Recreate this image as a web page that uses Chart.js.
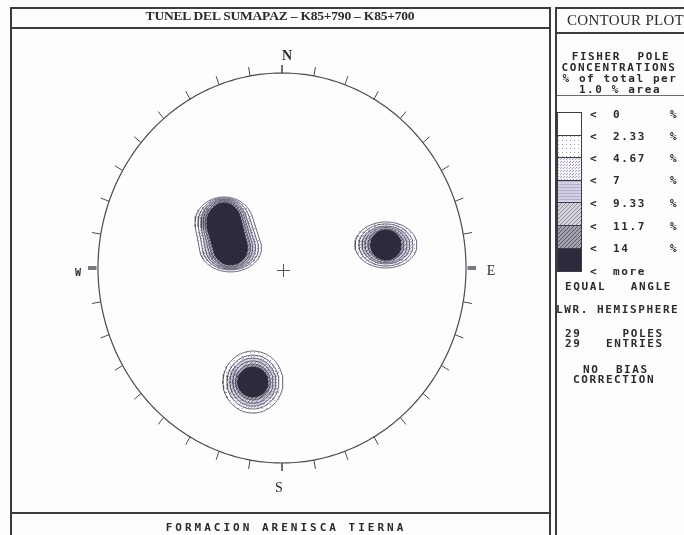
<!DOCTYPE html>
<html>
<head>
<meta charset="utf-8">
<script src="https://cdn.jsdelivr.net/npm/chart.js@4/dist/chart.umd.min.js"></script>
<style>
  html, body { margin: 0; padding: 0; background: #fff; }
  #page { position: relative; width: 684px; height: 535px; overflow: hidden; background: #fdfdfd; }
  .ln { position: absolute; background: #3c3c40; z-index: 3; }
  .t { position: absolute; white-space: pre; color: #2a2a30; z-index: 4; line-height: 1; }
  .c { transform: translate(-50%, -50%); }
  .l { transform: translate(0, -50%); }
  .mono { font-family: 'DejaVu Sans Mono', monospace; font-weight: bold; font-size: 11px; letter-spacing: 1.6px; }
  .serif { font-family: 'Liberation Serif', 'DejaVu Serif', serif; }
  .box { position: absolute; left: 557px; width: 25px; border: 1px solid #3c3c44; box-sizing: border-box; z-index: 2; }
  #stereo { position: absolute; left: 42px; top: 28px; z-index: 1; }
</style>
</head>
<body>
<div id="page">
  <!-- frame of the net panel -->
  <div class="ln" style="left:10px;top:7px;width:540px;height:2px"></div>
  <div class="ln" style="left:10px;top:27px;width:540px;height:2px"></div>
  <div class="ln" style="left:10px;top:7px;width:2px;height:528px"></div>
  <div class="ln" style="left:549px;top:7px;width:2px;height:528px"></div>
  <div class="ln" style="left:10px;top:512px;width:540px;height:2px"></div>
  <!-- frame of the key panel -->
  <div class="ln" style="left:555px;top:7px;width:2px;height:528px"></div>
  <div class="ln" style="left:555px;top:7px;width:129px;height:2px"></div>
  <div class="ln" style="left:555px;top:32px;width:129px;height:2px"></div>
  <div class="ln" style="left:557px;top:95px;width:127px;height:1px;background:#6a6a70"></div>

  <div class="t c serif" style="left:280px;top:16px;font-size:13.5px;font-weight:bold;letter-spacing:-0.2px">TUNEL DEL SUMAPAZ – K85+790 – K85+700</div>
  <div class="t c mono" style="left:286px;top:527px;font-size:11px;letter-spacing:3px">FORMACION ARENISCA TIERNA</div>

  <div class="t l serif" style="left:567px;top:20px;font-size:15px;letter-spacing:0.3px">CONTOUR PLOT</div>
  <div class="t c mono" style="left:621px;top:56px">FISHER  POLE</div>
  <div class="t c mono" style="left:619px;top:67px">CONCENTRATIONS</div>
  <div class="t c mono" style="left:620px;top:78px">% of total per</div>
  <div class="t c mono" style="left:620px;top:89px">1.0 % area</div>

  <div id="key"></div>

  <div class="t l mono" style="left:565px;top:286px">EQUAL   ANGLE</div>
  <div class="t l mono" style="left:556px;top:309px">LWR. HEMISPHERE</div>
  <div class="t l mono" style="left:565px;top:333px">29     POLES</div>
  <div class="t l mono" style="left:565px;top:343px">29   ENTRIES</div>
  <div class="t l mono" style="left:583px;top:369px">NO  BIAS</div>
  <div class="t l mono" style="left:573px;top:379px">CORRECTION</div>

  <!-- compass letters -->
  <div class="t c serif" style="left:287px;top:56px;font-size:14px;font-weight:bold">N</div>
  <div class="t c serif" style="left:279px;top:488px;font-size:14px">S</div>
  <div class="t c serif" style="left:491px;top:271px;font-size:14px">E</div>
  <div class="t c mono" style="left:78px;top:273px;font-size:10px;letter-spacing:0">W</div>

  <canvas id="stereo" width="480" height="480"></canvas>
</div>

<script>
// contour interval labels of the key (percent of total per 1.0 % area)
const levelLabels = ['0', '2.33', '4.67', '7', '9.33', '11.7', '14', 'more'];

// pole concentrations on the net (unit primitive circle), outer contour -> core
const nwUpperCentre = [-0.315, 0.231];
const nwUpperRx = [0.158, 0.141, 0.125, 0.114, 0.103, 0.092];
const nwUpperRy = [0.133, 0.128, 0.123, 0.118, 0.113, 0.103];
const nwLowerCentre = [-0.280, 0.103];
const nwLowerRx = [0.168, 0.152, 0.136, 0.120, 0.109, 0.092];
const nwLowerRy = [0.123, 0.113, 0.108, 0.103, 0.097, 0.087];

const eastCentre = [0.565, 0.118];
const eastRx = [0.168, 0.147, 0.130, 0.114, 0.098, 0.082];
const eastRy = [0.118, 0.108, 0.097, 0.090, 0.082, 0.077];

const southCentre = [-0.158, -0.585];
const southRx = [0.163, 0.141, 0.125, 0.109, 0.095, 0.082];
const southRy = [0.159, 0.138, 0.123, 0.108, 0.092, 0.077];

// --- fill patterns for the contour bands ---
function makePattern(w, h, bg, draw) {
  const c = document.createElement('canvas');
  c.width = w; c.height = h;
  const g = c.getContext('2d');
  g.fillStyle = bg; g.fillRect(0, 0, w, h);
  if (draw) draw(g);
  return c;
}
const tiles = [
  makePattern(4, 4, '#ffffff', null),
  makePattern(4, 4, '#ffffff', g => { g.fillStyle = '#9a98aa'; g.fillRect(0, 0, 1, 1); }),
  makePattern(3, 3, '#f6f6fa', g => { g.fillStyle = '#a09eb2'; g.fillRect(0, 0, 1, 1); g.fillRect(2, 1, 1, 1); }),
  makePattern(4, 3, '#d2d0e2', g => { g.fillStyle = '#b2afc8'; g.fillRect(0, 0, 4, 1); }),
  makePattern(4, 4, '#d6d5de', g => { g.fillStyle = '#8a8898'; for (let i = 0; i < 4; i++) g.fillRect(i, 3 - i, 1, 1); }),
  makePattern(4, 4, '#a3a1ad', g => { g.fillStyle = '#5a5866'; for (let i = 0; i < 4; i++) { g.fillRect(i, 3 - i, 1, 1); } }),
  makePattern(4, 4, '#2c2b3d', null)
];

// key boxes
const keyTops = [112, 135, 157, 180, 202, 225, 248, 271];
const keyLabelY = [114, 136, 158, 180, 203, 226, 248, 271];
const key = document.getElementById('key');
for (let i = 0; i < 7; i++) {
  const b = document.createElement('div');
  b.className = 'box';
  b.style.top = keyTops[i] + 'px';
  b.style.height = (keyTops[i + 1] - keyTops[i] + 1) + 'px';
  b.style.backgroundImage = 'url(' + tiles[i].toDataURL() + ')';
  key.appendChild(b);
}
levelLabels.forEach((lab, i) => {
  const y = keyLabelY[i];
  const mk = (x, txt) => {
    const d = document.createElement('div');
    d.className = 't l mono';
    d.style.left = x + 'px'; d.style.top = y + 'px';
    d.textContent = txt;
    key.appendChild(d);
  };
  mk(590, '<');
  mk(613, lab);
  if (lab !== 'more') mk(670, '%');
});

// --- contour outline: convex hull of the sampled elliptical lobes ---
function contourRing(lobes) {
  const pts = [];
  const N = 120;
  for (const l of lobes) {
    for (let i = 0; i < N; i++) {
      const a = (i / N) * 2 * Math.PI;
      pts.push({ x: l.c[0] + l.rx * Math.cos(a), y: l.c[1] + l.ry * Math.sin(a) });
    }
  }
  pts.sort((p, q) => p.x - q.x || p.y - q.y);
  const cross = (o, a, b) => (a.x - o.x) * (b.y - o.y) - (a.y - o.y) * (b.x - o.x);
  const lower = [], upper = [];
  for (const p of pts) {
    while (lower.length >= 2 && cross(lower[lower.length - 2], lower[lower.length - 1], p) <= 0) lower.pop();
    lower.push(p);
  }
  for (let i = pts.length - 1; i >= 0; i--) {
    const p = pts[i];
    while (upper.length >= 2 && cross(upper[upper.length - 2], upper[upper.length - 1], p) <= 0) upper.pop();
    upper.push(p);
  }
  lower.pop(); upper.pop();
  const hull = lower.concat(upper);
  hull.push(hull[0]);
  return hull;
}

const clusters = [
  k => [{ c: nwUpperCentre, rx: nwUpperRx[k], ry: nwUpperRy[k] }, { c: nwLowerCentre, rx: nwLowerRx[k], ry: nwLowerRy[k] }],
  k => [{ c: eastCentre, rx: eastRx[k], ry: eastRy[k] }],
  k => [{ c: southCentre, rx: southRx[k], ry: southRy[k] }]
];

const ctx = document.getElementById('stereo').getContext('2d');
const bandFills = tiles.slice(1).map(t => ctx.createPattern(t, 'repeat'));

const datasets = [];
clusters.forEach(lobesAt => {
  for (let k = 0; k < 6; k++) {
    datasets.push({
      label: levelLabels[k + 1],
      data: contourRing(lobesAt(k)),
      showLine: true,
      fill: 'shape',
      backgroundColor: bandFills[k],
      borderColor: k === 5 ? '#2c2b3d' : '#575569',
      borderWidth: 0.9,
      pointRadius: 0,
      tension: 0,
      order: 6 - k
    });
  }
});

// primitive circle, 10-degree ticks and centre cross
const netPlugin = {
  id: 'net',
  afterDatasetsDraw(chart) {
    const { ctx: g, scales: { x, y } } = chart;
    const cx = x.getPixelForValue(0), cy = y.getPixelForValue(0);
    g.save();
    g.strokeStyle = '#4a4a52';
    g.lineWidth = 1.2;
    g.beginPath();
    for (let d = 0; d <= 360; d++) {
      const a = d * Math.PI / 180;
      const px = x.getPixelForValue(Math.sin(a)), py = y.getPixelForValue(Math.cos(a));
      if (d === 0) g.moveTo(px, py); else g.lineTo(px, py);
    }
    g.closePath();
    g.stroke();
    for (let d = 0; d < 360; d += 10) {
      const a = d * Math.PI / 180;
      const px = x.getPixelForValue(Math.sin(a)), py = y.getPixelForValue(Math.cos(a));
      const ux = px - cx, uy = py - cy, len = Math.hypot(ux, uy);
      const nx = ux / len, ny = uy / len;
      const ew = d % 180 === 90;
      const ns = d % 180 === 0;
      const L = ew ? 10 : (ns ? 8 : 9);
      g.lineWidth = ew ? 4 : (ns ? 1.6 : 1);
      g.strokeStyle = ew ? '#77777f' : '#4a4a52';
      g.beginPath();
      g.moveTo(px + nx * (ew ? 1.5 : 0), py + ny * (ew ? 1.5 : 0));
      g.lineTo(px + nx * L, py + ny * L);
      g.stroke();
    }
    g.strokeStyle = '#55555d';
    g.lineWidth = 1;
    g.beginPath();
    g.moveTo(cx - 5, cy + 2.5); g.lineTo(cx + 8, cy + 2.5);
    g.moveTo(cx + 1.5, cy - 4); g.lineTo(cx + 1.5, cy + 9);
    g.stroke();
    g.restore();
  }
};

new Chart(ctx, {
  type: 'scatter',
  data: { datasets },
  options: {
    responsive: false,
    animation: false,
    devicePixelRatio: 1,
    layout: { padding: 0 },
    scales: {
      x: { type: 'linear', min: -240 / 184, max: 240 / 184, display: false },
      y: { type: 'linear', min: -240 / 195, max: 240 / 195, display: false }
    },
    plugins: { legend: { display: false }, tooltip: { enabled: false } },
    elements: { point: { radius: 0 } }
  },
  plugins: [netPlugin]
});
</script>
</body>
</html>
